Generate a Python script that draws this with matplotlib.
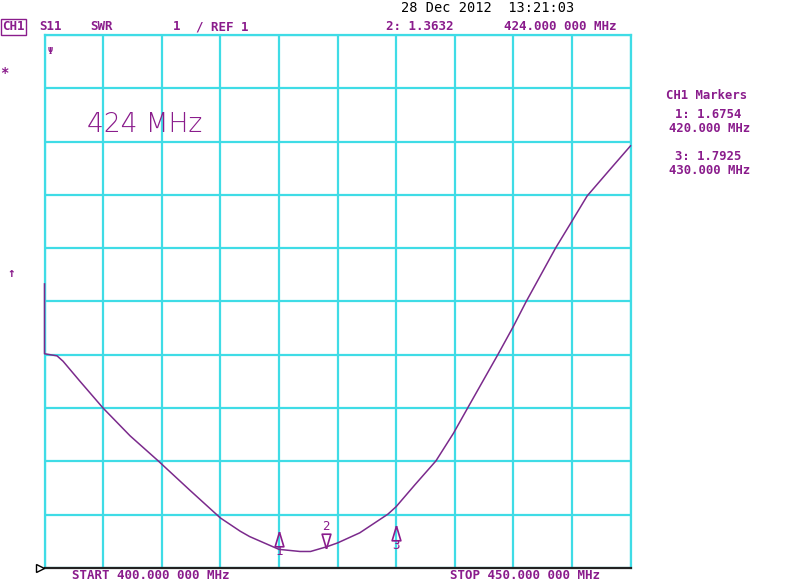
import matplotlib
matplotlib.use('Agg')
import matplotlib.pyplot as plt
from matplotlib import transforms
from matplotlib.path import Path
import numpy as np

# ---- data ----
freq_mhz = [400.0, 400.0, 401.07, 401.58, 403.0, 405.0, 407.3, 409.7, 412.4,
            415.0, 416.7, 417.5, 420.0, 421.8, 422.7, 424.1, 425.0, 426.9,
            429.3, 430.0, 431.6, 433.4, 434.9, 436.1, 438.7, 440.0, 441.1,
            443.6, 444.9, 446.3, 448.3, 450.0]
swr = [6.33, 5.02, 4.98, 4.88, 4.51, 4.00, 3.48, 3.01, 2.46,
       1.94, 1.69, 1.59, 1.35, 1.31, 1.31, 1.40, 1.47, 1.66,
       2.01, 2.15, 2.56, 3.01, 3.53, 4.00, 5.01, 5.53, 6.00,
       7.00, 7.47, 7.98, 8.49, 8.92]

marker_ids = ['1', '2', '3']
marker_freq = [420.0, 424.0, 430.0]
marker_swr = [1.6754, 1.3632, 1.7925]
marker_dir = ['up', 'down', 'up']

start_mhz = 400.0
stop_mhz = 450.0
ref_level = 1.0
scale_per_div = 1.0
n_div = 10

# ---- style ----
W, H = 800, 581
CYAN = '#3FDCE6'
PURPLE = '#8A1C8C'
TRACE = '#7B2A8C'
MONO = 'DejaVu Sans Mono'

fig = plt.figure(figsize=(W / 100, H / 100), dpi=100)
fig.patch.set_facecolor('white')
ax = fig.add_axes([44.5 / W, 13 / H, 586 / W, 533 / H])
ax.set_xlim(start_mhz, stop_mhz)
ax.set_ylim(ref_level, ref_level + n_div * scale_per_div)
ax.set_xticks(np.linspace(start_mhz, stop_mhz, n_div + 1))
ax.set_yticks(np.linspace(ref_level, ref_level + n_div * scale_per_div, n_div + 1))
ax.tick_params(length=0, labelbottom=False, labelleft=False)
ax.grid(True, color=CYAN, lw=1.6)
ax.set_axisbelow(True)
for s in ['left', 'top', 'right']:
    ax.spines[s].set_color(CYAN)
    ax.spines[s].set_linewidth(1.6)
ax.spines['bottom'].set_color('#222222')
ax.spines['bottom'].set_linewidth(1.6)
ax.spines['bottom'].set_zorder(5)

# trace
ax.plot(freq_mhz, swr, color=TRACE, lw=1.1, clip_on=False, zorder=4)

# markers
tri_up = Path([(0, 1), (-0.6, -1), (0.6, -1), (0, 1)])
tri_dn = Path([(0, -1), (-0.6, 1), (0.6, 1), (0, -1)])
ms = 10.5
for mid, f, v, d in zip(marker_ids, marker_freq, marker_swr, marker_dir):
    if d == 'up':
        off = transforms.ScaledTranslation(0, -ms / 2 / 72, fig.dpi_scale_trans)
        ax.plot([f], [v], marker=tri_up, ms=ms, mfc='none', mec=PURPLE, mew=1.2,
                transform=ax.transData + off, clip_on=False, zorder=6)
        ax.annotate(mid, (f, v), xytext=(0, -14), textcoords='offset points',
                    ha='center', va='center', color=PURPLE, family=MONO, fontsize=9)
    else:
        off = transforms.ScaledTranslation(0, ms / 2 / 72, fig.dpi_scale_trans)
        ax.plot([f], [v], marker=tri_dn, ms=ms, mfc='none', mec=PURPLE, mew=1.2,
                transform=ax.transData + off, clip_on=False, zorder=6)
        ax.annotate(mid, (f, v), xytext=(0, 16), textcoords='offset points',
                    ha='center', va='center', color=PURPLE, family=MONO, fontsize=9)

# reference-level pointer at left of the grid
ref_off = transforms.ScaledTranslation(-5 / 100, 0, fig.dpi_scale_trans)
ax.plot([start_mhz], [ref_level], marker='>', ms=6, mfc='white', mec='black', mew=1.0,
        transform=ax.transData + ref_off, clip_on=False, zorder=6)


def ptext(x, y, s, ha='left', color=PURPLE, size=9, weight='bold', family=MONO, **kw):
    fig.text(x / W, 1 - y / H, s, ha=ha, va='center', color=color,
             fontsize=size, fontweight=weight, family=family, **kw)


# header
ptext(2, 26.7, 'CH1', bbox=dict(boxstyle='square,pad=0.12', fc='none', ec=PURPLE, lw=1.0))
ptext(39, 26.7, 'S11')
ptext(90, 26.7, 'SWR')
ptext(173, 26.7, '1')
ptext(196, 26.7, '/ REF 1')
ptext(454, 26.7, '2: 1.3632', ha='right')
ptext(617, 26.7, '424.000 000 MHz', ha='right')
ptext(401, 8.3, '28 Dec 2012  13:21:03', color='black', size=9.8, weight='normal')

# marker panel
ptext(707, 95, 'CH1 Markers', ha='center', size=8.8)
ptext(741, 115, '1: 1.6754', ha='right', size=8.8)
ptext(750, 128, '420.000 MHz', ha='right', size=8.8)
ptext(741, 157, '3: 1.7925', ha='right', size=8.8)
ptext(750, 170, '430.000 MHz', ha='right', size=8.8)

# bottom
ptext(72, 575.5, 'START 400.000 000 MHz')
ptext(450, 575.5, 'STOP 450.000 000 MHz')

# annotation inside grid
ptext(87, 125, '424 MHz', size=19, weight='light', family='DejaVu Sans')

# small symbols
ptext(0, 72.7, '*', size=10)
ptext(11, 274, '↑', ha='center', size=9)
ptext(50, 52, 'Ψ', ha='center', size=6)

fig.savefig('out.png', dpi=100)
